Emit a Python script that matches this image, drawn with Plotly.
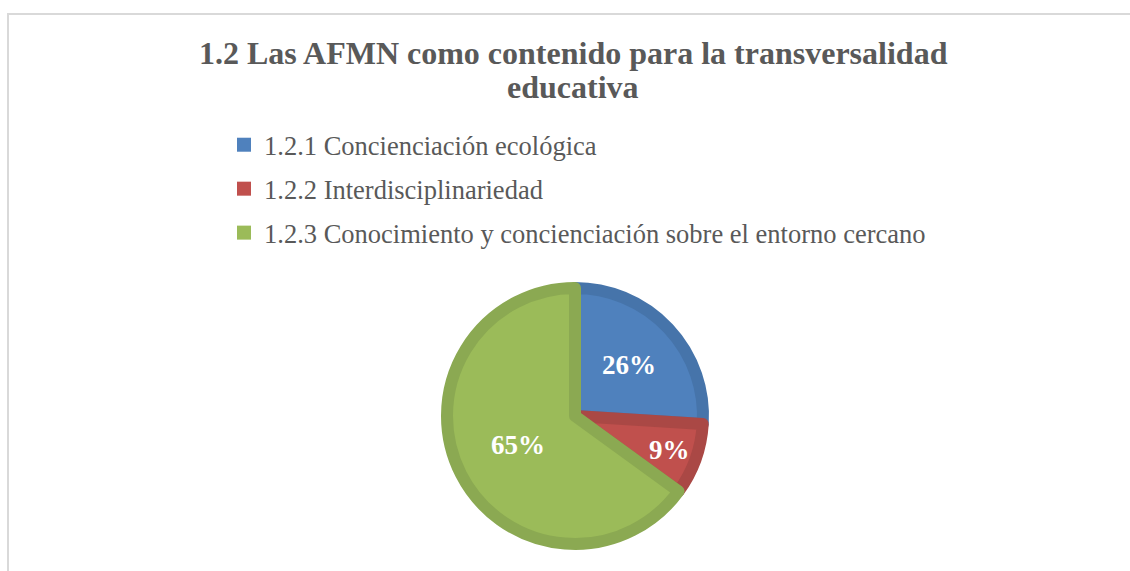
import plotly.graph_objects as go

# Data
labels = ["1.2.1 Concienciación ecológica",
          "1.2.2 Interdisciplinariedad",
          "1.2.3 Conocimiento y concienciación sobre el entorno cercano"]
values = [26, 9, 65]
fill_colors = ["#4F81BD", "#C0504D", "#9BBB59"]
edge_colors = ["#4674AA", "#AA4845", "#8BA952"]
title_lines = ["1.2 Las AFMN como contenido para la transversalidad", "educativa"]

W, H = 1130, 571
SERIF = "Liberation Serif, Times New Roman, serif"
R = 128

fig = go.Figure()

fig.add_trace(go.Pie(
    labels=labels,
    values=values,
    sort=False,
    direction="clockwise",
    rotation=0,
    marker=dict(colors=fill_colors, line=dict(color=edge_colors, width=12)),
    textinfo="percent",
    texttemplate="%{percent:.0%}",
    textposition="inside",
    insidetextorientation="horizontal",
    textfont=dict(family=SERIF, size=27, color="white", weight="bold"),
    showlegend=False,
    hoverinfo="label+percent",
    domain=dict(x=[(575 - R) / W, (575 + R) / W],
                y=[1 - (416 + R) / H, 1 - (416 - R) / H]),
))

# Legend entries (one per category so they can be spaced)
for i, (lab, col) in enumerate(zip(labels, fill_colors)):
    fig.add_trace(go.Scatter(
        x=[None], y=[None], mode="markers", name=lab,
        marker=dict(symbol="square", size=14, color=col),
        legendgroup=f"g{i}", showlegend=True, hoverinfo="skip",
    ))

title_font = dict(family=SERIF, size=32, color="#595959", weight="bold")
annotations = [
    dict(text=title_lines[0], x=573 / W, y=1 - 53 / H, xref="paper", yref="paper",
         xanchor="center", yanchor="middle", showarrow=False, font=title_font),
    dict(text=title_lines[1], x=573 / W, y=1 - 87 / H, xref="paper", yref="paper",
         xanchor="center", yanchor="middle", showarrow=False, font=title_font),
]

fig.update_layout(
    width=W, height=H,
    margin=dict(l=0, r=0, t=0, b=0),
    paper_bgcolor="white",
    plot_bgcolor="white",
    annotations=annotations,
    legend=dict(x=224 / W, xanchor="left", y=1 - 121 / H, yanchor="top",
                font=dict(family=SERIF, size=26.5, color="#595959"),
                tracegroupgap=6.5, itemwidth=30, bgcolor="rgba(0,0,0,0)"),
    xaxis=dict(visible=False),
    yaxis=dict(visible=False),
    shapes=[dict(type="rect", xref="paper", yref="paper",
                 x0=8 / W, x1=1.02, y0=-0.05, y1=1 - 14 / H,
                 line=dict(color="#D9D9D9", width=2), layer="below")],
)

fig.write_html("out.html", config={"displayModeBar": False},
               post_script="document.body.style.margin='0';")
